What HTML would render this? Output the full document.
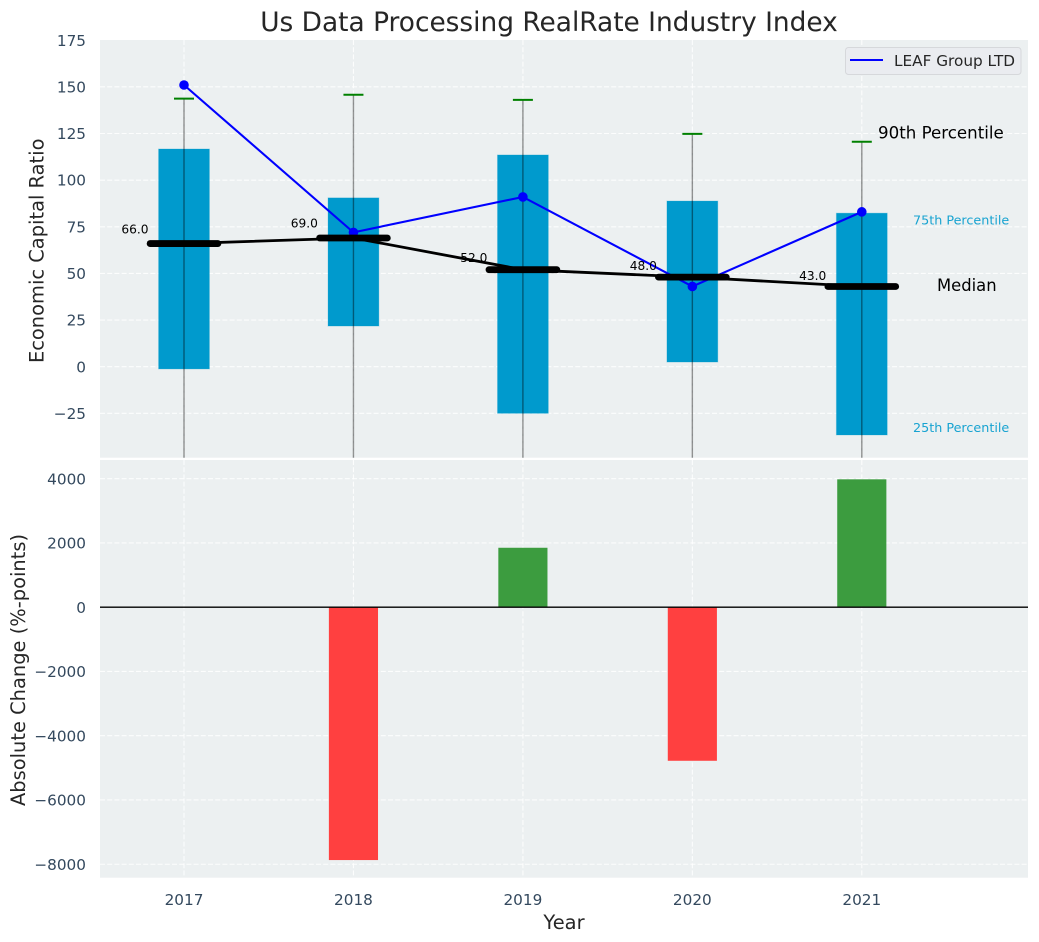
<!DOCTYPE html>
<html>
<head>
<meta charset="utf-8">
<title>Us Data Processing RealRate Industry Index</title>
<style>
html,body{margin:0;padding:0;background:#fff;}
svg{display:block;font-family:"DejaVu Sans","Liberation Sans",sans-serif;}
</style>
</head>
<body>
<svg id="chart" xmlns="http://www.w3.org/2000/svg" width="1039" height="942" viewBox="0 0 1039 942">
<defs>
<clipPath id="clip-top"><rect x="100" y="40" width="928" height="417.7"/></clipPath>
<clipPath id="clip-bottom"><rect x="100" y="460" width="928" height="417.7"/></clipPath>
</defs>
</svg>
<script>
const years = [2017, 2018, 2019, 2020, 2021];
const p90 = [143.7, 145.8, 143, 124.8, 120.6];
const p75 = [116.7, 90.5, 113.5, 88.8, 82.3];
const medians = [66, 69, 52, 48, 43];
const p25 = [-1.2, 21.8, -25, 2.5, -36.6];
const p10 = [-60, -60, -60, -60, -60];
const leafValues = [151, 72, 91, 43, 83];
const changeYears = [2018, 2019, 2020, 2021];
const changeValues = [-7870, 1850, -4780, 3980];
const topTicks = [-25, 0, 25, 50, 75, 100, 125, 150, 175];
const bottomTicks = [-8000, -6000, -4000, -2000, 0, 2000, 4000];

const NS = 'http://www.w3.org/2000/svg';
const svg = document.getElementById('chart');
const x = function (year) { return 184 + (year - 2017) * 169.45; };
const yTop = function (v) { return 366.7 - v * 1.8656; };
const yBottom = function (v) { return 607.2 - v * 0.03213; };
const unitsToPx = 169.45;

function make(tag, attrs, parent) {
  const el = document.createElementNS(NS, tag);
  for (const k in attrs) el.setAttribute(k, attrs[k]);
  (parent || svg).appendChild(el);
  return el;
}
function label(str, attrs, parent) {
  const el = make('text', attrs, parent);
  el.textContent = str;
  return el;
}
function fmt(v) { return v < 0 ? '\u2212' + Math.abs(v) : String(v); }

/* panels */
const panelTop = make('rect', {x: 100, y: 40, width: 928, height: 417.7, fill: '#ecf0f1'});


const panelBottom = make('rect', {x: 100, y: 460, width: 928, height: 417.7, fill: '#ecf0f1'});



const gridStyle = {stroke: '#ffffff', 'stroke-width': 1.1, 'stroke-opacity': 0.85, 'stroke-dasharray': '5 2.2', fill: 'none'};

/* grid and ticks */
topTicks.forEach(function (t) {
  const gy = yTop(t);
  if (t < 175) {
    const g = make('line', Object.assign({x1: 100, x2: 1028, y1: gy, y2: gy}, gridStyle));
    
    
  }
  const tl = label(fmt(t), {x: 86, y: gy + 5.6, 'text-anchor': 'end', 'font-size': 15.28, fill: '#34495e'});
  
  
});
bottomTicks.forEach(function (t) {
  const gy = yBottom(t);
  const g = make('line', Object.assign({x1: 100, x2: 1028, y1: gy, y2: gy}, gridStyle));
  
  
  const tl = label(fmt(t), {x: 86, y: gy + 5.6, 'text-anchor': 'end', 'font-size': 15.28, fill: '#34495e'});
  
  
});
years.forEach(function (yr) {
  const g1 = make('line', Object.assign({x1: x(yr), x2: x(yr), y1: 40, y2: 457.7}, gridStyle));
  
  
  const g2 = make('line', Object.assign({x1: x(yr), x2: x(yr), y1: 460, y2: 877.7}, gridStyle));
  
  
  const tl = label(String(yr), {x: x(yr), y: 905, 'text-anchor': 'middle', 'font-size': 15.28, fill: '#34495e'});
  
  
});

/* top panel marks */
const topLayer = make('g', {'clip-path': 'url(#clip-top)'});



years.forEach(function (yr, i) {
  const box = make('rect', {
    x: x(yr) - 0.15 * unitsToPx, width: 0.3 * unitsToPx,
    y: yTop(p75[i]), height: yTop(p25[i]) - yTop(p75[i]),
    fill: '#009acd', stroke: '#009acd', 'stroke-opacity': 0.25, 'stroke-width': 1
  }, topLayer);
  
  
});
years.forEach(function (yr, i) {
  const w = make('line', {
    x1: x(yr), x2: x(yr), y1: yTop(p90[i]), y2: yTop(p10[i]),
    stroke: '#000', 'stroke-opacity': 0.42, 'stroke-width': 1.4
  }, topLayer);
  
  
  const c = make('line', {
    x1: x(yr) - 10, x2: x(yr) + 10, y1: yTop(p90[i]), y2: yTop(p90[i]),
    stroke: '#008000', 'stroke-width': 2
  }, topLayer);
  
  
});

/* company line */
const leafLine = make('polyline', {
  points: years.map(function (yr, i) { return x(yr) + ',' + yTop(leafValues[i]); }).join(' '),
  fill: 'none', stroke: '#0000ff', 'stroke-width': 2.1
}, topLayer);


years.forEach(function (yr, i) {
  const m = make('circle', {cx: x(yr), cy: yTop(leafValues[i]), r: 4.8, fill: '#0000ff'}, topLayer);
  
  
});

/* median line and bars */
const medLine = make('polyline', {
  points: years.map(function (yr, i) { return x(yr) + ',' + yTop(medians[i]); }).join(' '),
  fill: 'none', stroke: '#000', 'stroke-width': 2.8
}, topLayer);


years.forEach(function (yr, i) {
  const b = make('line', {
    x1: x(yr) - 0.2 * unitsToPx, x2: x(yr) + 0.2 * unitsToPx,
    y1: yTop(medians[i]), y2: yTop(medians[i]),
    stroke: '#000', 'stroke-width': 6.8, 'stroke-linecap': 'round'
  }, topLayer);
  
  
  const t = label(medians[i].toFixed(1), {
    x: x(yr) - 35.5, y: yTop(medians[i] * 1.08), 'text-anchor': 'end', 'font-size': 12.2, fill: '#000'
  });
  
  
});

/* bottom panel marks */
const bottomLayer = make('g', {'clip-path': 'url(#clip-bottom)'});


changeYears.forEach(function (yr, i) {
  const v = changeValues[i];
  const top = v >= 0 ? yBottom(v) : yBottom(0);
  const bot = v >= 0 ? yBottom(0) : yBottom(v);
  const bar = make('rect', {
    x: x(yr) - 0.145 * unitsToPx, width: 0.29 * unitsToPx, y: top, height: bot - top,
    fill: v >= 0 ? '#3c9c3f' : '#ff4040'
  }, bottomLayer);
  
  
});
const zeroLine = make('line', {x1: 100, x2: 1028, y1: yBottom(0), y2: yBottom(0), stroke: '#000', 'stroke-width': 1.4});



/* annotations */
const a90 = label('90th Percentile', {x: 878, y: 138.7, 'font-size': 16.67, fill: '#000'});


const a75 = label('75th Percentile', {x: 913, y: 224.3, 'font-size': 12.75, fill: '#009acd', 'fill-opacity': 0.9});


const aMed = label('Median', {x: 937, y: 291, 'font-size': 16.4, fill: '#000'});


const a25 = label('25th Percentile', {x: 913, y: 432, 'font-size': 12.75, fill: '#009acd', 'fill-opacity': 0.9});



/* legend */
const legend = make('g', {});


const legendBox = make('rect', {x: 845.5, y: 47.5, width: 175.5, height: 27, rx: 3, fill: '#eaecf0', stroke: '#d6d8db', 'stroke-width': 1}, legend);


const legendLine = make('line', {x1: 850, x2: 883, y1: 60, y2: 60, stroke: '#0000ff', 'stroke-width': 2}, legend);


const legendText = label('LEAF Group LTD', {x: 894, y: 66, 'font-size': 15.28, fill: '#262626'}, legend);



/* titles */
const title = label('Us Data Processing RealRate Industry Index', {x: 549, y: 31, 'text-anchor': 'middle', 'font-size': 26.4, fill: '#262626'});


const xTitle = label('Year', {x: 564, y: 929, 'text-anchor': 'middle', 'font-size': 19.44, fill: '#262626'});


const yTitleTop = label('Economic Capital Ratio', {x: 0, y: 0, 'text-anchor': 'middle', 'font-size': 19.44, fill: '#262626', transform: 'translate(43.5,250.8) rotate(-90)'});


const yTitleBottom = label('Absolute Change (%-points)', {x: 0, y: 0, 'text-anchor': 'middle', 'font-size': 19.44, fill: '#262626', transform: 'translate(25,670) rotate(-90)'});


</script>
</body>
</html>
